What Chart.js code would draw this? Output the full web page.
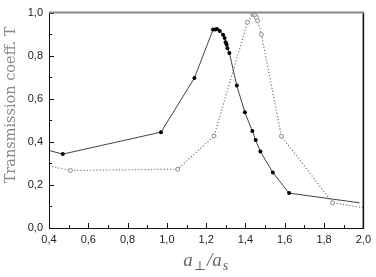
<!DOCTYPE html>
<html>
<head>
<meta charset="utf-8">
<script src="https://cdn.jsdelivr.net/npm/chart.js@4/dist/chart.umd.min.js"></script>
<style>
  html, body { margin: 0; padding: 0; background: #fff; }
  #wrap { width: 376px; height: 277px; }
</style>
</head>
<body>
<div id="wrap"><canvas id="chart" width="376" height="277"></canvas></div>
<script>
// solid curve (filled dots)
const solidX = [0.40, 0.47, 0.97, 1.14, 1.235, 1.247, 1.255, 1.269, 1.286, 1.294, 1.299, 1.304, 1.308, 1.318, 1.356, 1.397, 1.435, 1.452, 1.476, 1.539, 1.622, 1.980];
const solidY = [0.36, 0.343, 0.445, 0.696, 0.921, 0.922, 0.924, 0.915, 0.897, 0.882, 0.862, 0.852, 0.835, 0.813, 0.661, 0.537, 0.450, 0.408, 0.355, 0.258, 0.162, 0.117];
// dotted curve (open circles)
const dotX = [0.40, 0.509, 1.055, 1.240, 1.410, 1.437, 1.443, 1.450, 1.456, 1.462, 1.481, 1.583, 1.844, 2.00];
const dotY = [0.289, 0.267, 0.273, 0.427, 0.955, 0.992, 0.994, 0.986, 0.976, 0.962, 0.898, 0.426, 0.117, 0.094];

const xTitle = ["a", "⊥", "/a", "s"];   // drawn with subscripts
const yTitle = "Transmission coeff. T";

const pts = (xs, ys) => xs.map((x, i) => ({ x, y: ys[i] }));
// end points where the curves run off the frame carry no marker
const radii = (n, r) => Array.from({ length: n }, (_, i) => (i === 0 || i === n - 1) ? 0 : r);
const fmt = v => (Math.round(v * 10) / 10).toFixed(1).replace(".", ",");

// inward ticks, frame and titles
const frame = {
  id: "frame",
  afterDraw(c) {
    const { ctx, chartArea: a, scales: { x, y } } = c;
    ctx.save();
    ctx.strokeStyle = "#111";
    ctx.lineWidth = 1;
    ctx.beginPath();
    for (let i = 4; i <= 20; i++) {
      const px = Math.round(x.getPixelForValue(i / 10)) + 0.5;
      const len = i % 2 === 0 ? 5 : 3;
      ctx.moveTo(px, a.bottom); ctx.lineTo(px, a.bottom - len);
    }
    for (let i = 0; i <= 10; i++) {
      const py = Math.round(y.getPixelForValue(i / 10)) + 0.5;
      const len = i % 2 === 0 ? 5 : 3;
      ctx.moveTo(a.left, py); ctx.lineTo(a.left + len, py);
    }
    ctx.stroke();
    // left + bottom
    ctx.beginPath();
    ctx.moveTo(a.left + 0.5, a.top); ctx.lineTo(a.left + 0.5, a.bottom + 0.5); ctx.lineTo(a.right, a.bottom + 0.5);
    ctx.stroke();
    // right
    ctx.lineWidth = 1.6;
    ctx.beginPath();
    ctx.moveTo(a.right, a.top); ctx.lineTo(a.right, a.bottom + 1);
    ctx.stroke();
    // top
    ctx.strokeStyle = "#8a8a8a";
    ctx.lineWidth = 2;
    ctx.beginPath();
    ctx.moveTo(a.left, a.top); ctx.lineTo(a.right + 0.8, a.top);
    ctx.stroke();

    // y title
    ctx.fillStyle = "#888";
    ctx.font = "14.5px 'DejaVu Serif'";
    ctx.textAlign = "center";
    ctx.textBaseline = "alphabetic";
    ctx.translate(14.5, 105);
    ctx.rotate(-Math.PI / 2);
    ctx.fillText(yTitle, 0, 0);
    ctx.restore();

    // x title: a⊥/a_s
    ctx.save();
    ctx.fillStyle = "#666";
    const big = "italic 19px 'Liberation Serif'";
    const small = "13px 'DejaVu Serif'";
    const smallIt = "italic 14px 'Liberation Serif'";
    const parts = [
      { t: xTitle[0], f: big, dy: 0 },
      { t: xTitle[1], f: small, dy: 4 },
      { t: xTitle[2], f: big, dy: 0 },
      { t: xTitle[3], f: smallIt, dy: 4 }
    ];
    let w = 0;
    parts.forEach(p => { ctx.font = p.f; p.w = ctx.measureText(p.t).width; w += p.w + 1; });
    let cx = (a.left + a.right) / 2 - w / 2;
    ctx.textAlign = "left";
    parts.forEach(p => { ctx.font = p.f; ctx.fillText(p.t, cx, 266 + p.dy); cx += p.w + 1; });
    ctx.restore();
  }
};

new Chart(document.getElementById("chart"), {
  type: "scatter",
  data: {
    datasets: [
      {
        data: pts(solidX, solidY),
        showLine: true,
        borderColor: "#444",
        borderWidth: 1,
        pointBackgroundColor: "#000",
        pointBorderColor: "#000",
        pointBorderWidth: 0,
        pointRadius: radii(solidX.length, 2),
        tension: 0
      },
      {
        data: pts(dotX, dotY),
        showLine: true,
        borderColor: "#777",
        borderWidth: 1.2,
        borderDash: [1.2, 2],
        pointBackgroundColor: "#fff",
        pointBorderColor: "#888",
        pointBorderWidth: 1,
        pointRadius: radii(dotX.length, 2),
        tension: 0
      }
    ]
  },
  options: {
    responsive: false,
    animation: false,
    events: [],
    layout: { padding: { top: 6, right: 9, left: 0, bottom: 0 } },
    plugins: { legend: { display: false }, tooltip: { enabled: false } },
    scales: {
      x: {
        type: "linear", min: 0.4, max: 2.0,
        afterFit: s => { s.height = 49; },
        grid: { display: false, drawTicks: false },
        border: { display: false },
        ticks: {
          stepSize: 0.2, padding: 5, color: "#222",
          font: { family: "'Liberation Sans', Arial, sans-serif", size: 11 },
          maxRotation: 0, autoSkip: false,
          callback: v => fmt(v)
        }
      },
      y: {
        min: 0, max: 1.0,
        afterFit: s => { s.width = 49; },
        grid: { display: false, drawTicks: false },
        border: { display: false },
        ticks: {
          stepSize: 0.2, padding: 6, color: "#222",
          font: { family: "'Liberation Sans', Arial, sans-serif", size: 11 },
          callback: v => fmt(v)
        }
      }
    }
  },
  plugins: [frame]
});
</script>
</body>
</html>
